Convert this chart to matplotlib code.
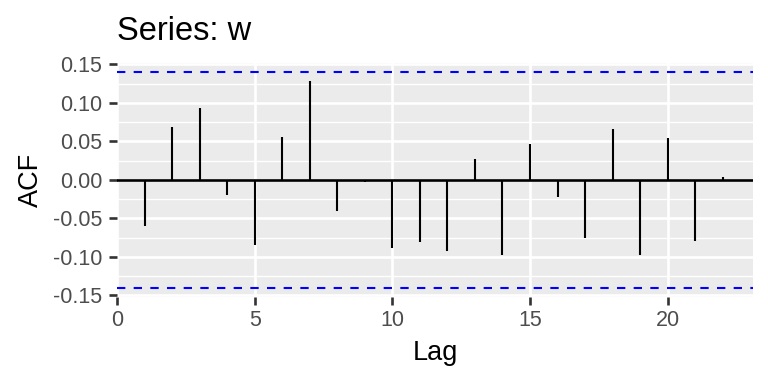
import numpy as np
import matplotlib.pyplot as plt

plt.rcParams['font.family'] = ['Liberation Sans', 'DejaVu Sans']

# ACF values
lags = np.arange(1, 23)
acf = [-0.060, 0.068, 0.093, -0.019, -0.084, 0.056, 0.128, -0.040, -0.003, -0.089,
       -0.081, -0.092, 0.027, -0.098, 0.046, -0.022, -0.075, 0.066, -0.097, 0.055,
       -0.079, 0.004]
ci = 0.14  # confidence bound

fig = plt.figure(figsize=(7.68, 3.84), dpi=100)
ax = fig.add_axes([117 / 768, 1 - 297 / 384, (753 - 117) / 768, (297 - 63) / 384])

ax.set_facecolor('#EBEBEB')
for s in ax.spines.values():
    s.set_visible(False)

ax.set_xlim(0, 23.1)
ax.set_ylim(-0.152, 0.1517)
ax.set_xticks([0, 5, 10, 15, 20])
yt = [-0.15, -0.10, -0.05, 0.00, 0.05, 0.10, 0.15]
ax.set_yticks(yt)
ax.set_yticklabels(['%.2f' % v for v in yt])
ax.set_yticks([-0.125, -0.075, -0.025, 0.025, 0.075, 0.125], minor=True)

ax.grid(True, which='major', color='white', linewidth=1.9)
ax.grid(True, which='minor', axis='y', color='white', linewidth=0.95)
ax.set_axisbelow(True)

ax.tick_params(which='major', length=5.5, width=1.9, color='#333333',
               labelsize=15.5, labelcolor='#4D4D4D')
ax.tick_params(axis='y', pad=5)
ax.tick_params(axis='x', pad=4)
ax.tick_params(which='minor', length=0)

ax.axhline(0, color='black', linewidth=1.9, zorder=3)
ax.vlines(lags, 0, acf, color='black', linewidth=1.5, zorder=3)
ax.axhline(ci, color='blue', linestyle=(0, (4, 4)), linewidth=1.5, zorder=3)
ax.axhline(-ci, color='blue', linestyle=(0, (4, 4)), linewidth=1.5, zorder=3)

ax.set_xlabel('Lag', fontsize=19.5, color='black', labelpad=6)
ax.set_ylabel('ACF', fontsize=19.5, color='black')
ax.yaxis.set_label_coords(-0.115, 0.5)
fig.text(117 / 768, 1 - 40 / 384, 'Series: w', fontsize=23.5, color='black',
         ha='left', va='baseline')

fig.savefig('out.png', dpi=100)
